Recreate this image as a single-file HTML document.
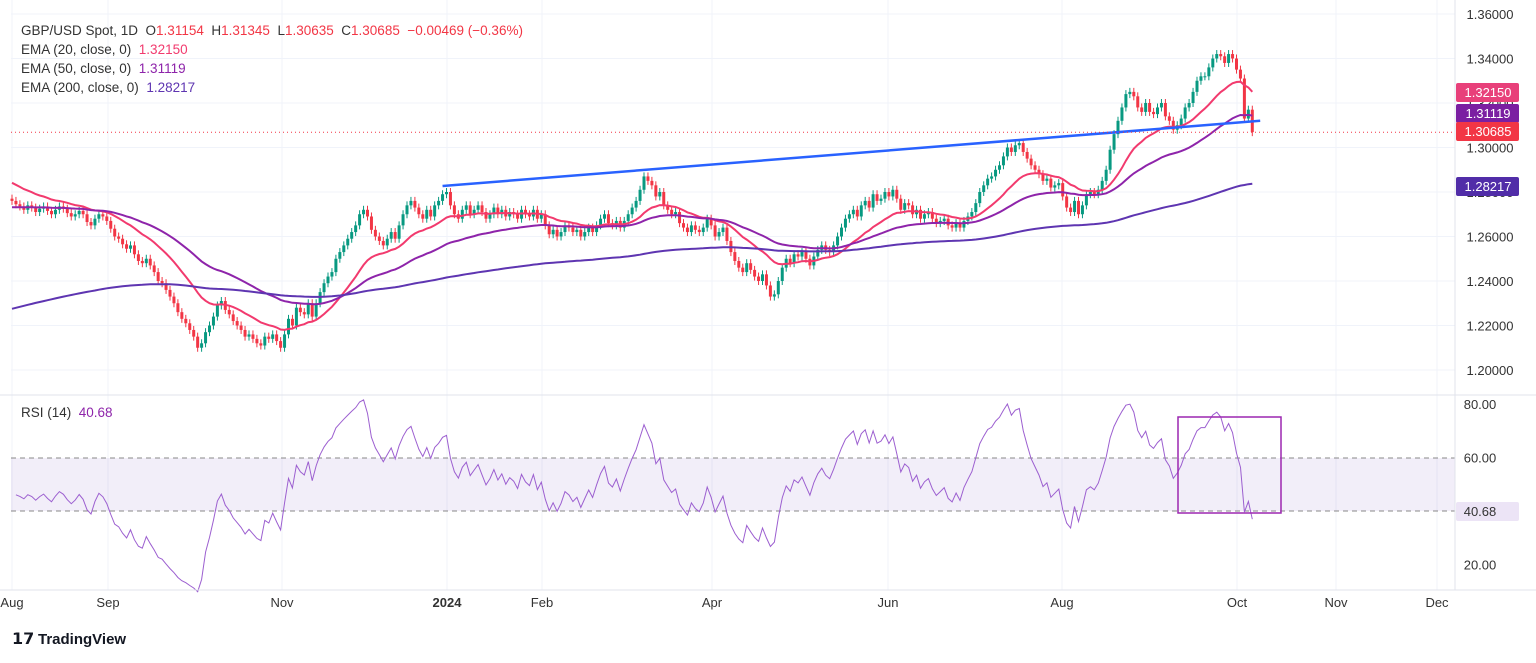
<!DOCTYPE html>
<html><head><meta charset="utf-8"><style>
body{margin:0;background:#fff;font-family:"Liberation Sans",sans-serif;}
svg text{font-family:"Liberation Sans",sans-serif;white-space:pre;}
</style></head><body>
<svg id="c" width="1536" height="658" xmlns="http://www.w3.org/2000/svg">
<rect x="0" y="0" width="1536" height="658" fill="#fff"/>
<g id="grid"></g>
<rect x="11" y="458" width="1444" height="53" fill="#7e57c2" fill-opacity="0.1"/>
<line x1="11" x2="1455" y1="458" y2="458" stroke="#888" stroke-dasharray="5,4"/>
<line x1="11" x2="1455" y1="511" y2="511" stroke="#888" stroke-dasharray="5,4"/>
<g id="candles"></g><g id="lines"></g>
<line x1="1455" x2="1455" y1="0" y2="590" stroke="#e0e3eb"/>
<line x1="0" x2="1536" y1="395" y2="395" stroke="#e0e3eb"/>
<line x1="0" x2="1536" y1="590" y2="590" stroke="#e0e3eb"/>
<g id="axis"></g>
<rect x="1178" y="417" width="103" height="96" fill="none" stroke="#9c27b0" stroke-width="1.5"/>
<g font-size="13.5">
<text x="21" y="35" fill="#333">GBP/USD Spot, 1D  O<tspan fill="#f23645">1.31154</tspan>  H<tspan fill="#f23645">1.31345</tspan>  L<tspan fill="#f23645">1.30635</tspan>  C<tspan fill="#f23645">1.30685</tspan>  <tspan fill="#f23645">−0.00469 (−0.36%)</tspan></text>
<text x="21" y="54" fill="#333">EMA (20, close, 0)  <tspan fill="#f23a6e">1.32150</tspan></text>
<text x="21" y="73" fill="#333">EMA (50, close, 0)  <tspan fill="#8e24aa">1.31119</tspan></text>
<text x="21" y="92" fill="#333">EMA (200, close, 0)  <tspan fill="#5e35b1">1.28217</tspan></text>
<text x="21" y="417" fill="#333">RSI (14)  <tspan fill="#8e24aa">40.68</tspan></text>
</g>
<g><text x="12" y="644" font-size="16" font-weight="bold" fill="#131722">𝟭𝟳</text><text x="38" y="644" font-size="15" font-weight="bold" fill="#131722">TradingView</text></g>
</svg>
<script>
const closesPips=[2760,2745,2735,2720,2740,2730,2710,2725,2735,2715,2700,2720,2735,2725,2705,2690,2700,2715,2700,2665,2650,2680,2700,
2690,2670,2635,2600,2590,2565,2545,2560,2520,2490,2480,2500,2470,2440,2400,2390,2360,2330,2300,2260,2230,2210,2180,2150,2100,
2120,2170,2200,2240,2290,2310,2270,2250,2220,2200,2180,
2150,2160,2140,2120,2110,2150,2140,2160,2130,2100,2160,2230,2200,2280,2260,2250,2300,
2240,2300,2350,2390,2420,2440,2500,2530,2560,2590,2620,2650,2700,2720,2690,2630,2600,2580,2560,2590,
2620,2590,2650,2700,2740,2760,2730,2700,2680,2720,2690,2740,2760,2790,2800,2740,2700,2680,2720,2740,
2700,2720,2740,2710,2680,2700,2730,2700,2720,2690,2710,2700,2680,2720,2700,2690,2720,2680,2700,2650,
2610,2630,2600,2620,2650,2640,2620,2630,2600,2620,2640,2620,2650,2680,2700,2660,2650,2670,2640,2670,
2700,2730,2760,2810,2870,2850,2830,2780,2800,2740,2720,2700,2710,2660,2640,2620,2650,2630,2620,2640,
2680,2650,2600,2620,2640,2580,2530,2490,2460,2440,2480,2450,2420,2400,2430,2380,2330,2340,2400,2460,
2500,2480,2520,2510,2530,2500,2470,2510,2540,2560,2540,2530,2560,2600,2640,2680,2700,2720,2690,2740,
2760,2730,2790,2760,2770,2800,2780,2810,2770,2720,2750,2740,2700,2720,2680,2700,2710,2680,2660,2670,
2680,2650,2640,2660,2640,2670,2690,2710,2750,2800,2830,2860,2870,2900,2920,2960,3000,2980,3010,3020,
2980,2950,2920,2900,2880,2850,2860,2820,2830,2840,2780,2730,2710,2760,2700,2740,2790,2800,2790,2810,
2850,2900,2990,3060,3120,3180,3240,3250,3230,3180,3160,3200,3160,3150,3180,3200,3140,3120,3080,3100,
3130,3180,3200,3250,3300,3320,3320,3360,3400,3420,3410,3380,3420,3400,3350,3310,3130,3170,3069];
const emaSeeds=[1.2850,1.2730,1.2270];
const emaPeriods=[20,50,200];
const rsiSeedGainLoss=[0.0030,0.0034];
const trendBars=[109,316];
const trendPrices=[1.2827,1.3120];
const priceTicks=[1.36,1.34,1.32,1.30,1.28,1.26,1.24,1.22,1.20];
const rsiTicks=[80,60,40,20];
const monthLabels=["Aug","Sep","Nov","2024","Feb","Apr","Jun","Aug","Oct","Nov","Dec"];
const monthX=[12,108,282,447,542,712,888,1062,1237,1336,1437];
const lastLabels=["1.32150","1.31119","1.30685","1.28217"];
const lastValues=[1.3215,1.3112,1.30685,1.2822];

const NS="http://www.w3.org/2000/svg";
const py=p=>14+(1.36-p)/0.16*356;
const ry=r=>404+(80-r)*2.675;
const bx=i=>12+i*3.95;
function mk(tag,attrs,parent){const e=document.createElementNS(NS,tag);for(const k in attrs)e.setAttribute(k,attrs[k]);document.getElementById(parent).appendChild(e);return e;}
const closes=closesPips.map(v=>1+v/10000);
priceTicks.forEach(p=>{const l=mk('line',{x1:11,x2:1455,y1:py(p),y2:py(p),stroke:'#f0f3fa'},'grid');

});
monthX.forEach(x=>{const l=mk('line',{x1:x,x2:x,y1:0,y2:590,stroke:'#f0f3fa'},'grid');

});
closes.forEach((c,i)=>{const o=i?closes[i-1]:c+0.001;const up=c>=o;const col=up?'#089981':'#f23645';
const hi=Math.max(o,c)+0.0018,lo=Math.min(o,c)-0.0018;const x=bx(i);
const w=mk('line',{x1:x,x2:x,y1:py(hi),y2:py(lo),stroke:col},'candles');


const top=py(Math.max(o,c)),h=Math.max(1,py(Math.min(o,c))-top);
const b=mk('rect',{x:x-1.5,y:top,width:3,height:h,fill:col},'candles');

});
const emaCols=['#f23a6e','#8e24aa','#5e35b1'];const emaNames=['ema-20-line','ema-50-line','ema-200-line'];
emaPeriods.forEach((n,k)=>{let e=emaSeeds[k];const a=2/(n+1);let d='';
closes.forEach((c,i)=>{e=e+a*(c-e);d+=(i?'L':'M')+bx(i).toFixed(1)+','+py(e).toFixed(1);});
const p=mk('path',{d:d,fill:'none',stroke:emaCols[k],'stroke-width':2},'lines');

});
const tl=mk('line',{x1:bx(trendBars[0]),y1:py(trendPrices[0]),x2:bx(trendBars[1]),y2:py(trendPrices[1]),stroke:'#2962ff','stroke-width':2.5},'lines');


const cl=mk('line',{x1:11,x2:1455,y1:py(lastValues[2]),y2:py(lastValues[2]),stroke:'#f23645','stroke-dasharray':'1,3'},'lines');


let ag=rsiSeedGainLoss[0],al=rsiSeedGainLoss[1],d='';
for(let i=1;i<closes.length;i++){const ch=closes[i]-closes[i-1];const g=Math.max(ch,0),l=Math.max(-ch,0);
ag=(ag*13+g)/14;al=(al*13+l)/14;
const r=al===0?100:100-100/(1+ag/al);d+=(i>1?'L':'M')+bx(i).toFixed(1)+','+ry(r).toFixed(1);}
const rp=mk('path',{d:d,fill:'none',stroke:'#9c5fd0','stroke-width':1},'lines');


priceTicks.forEach(p=>{const t=mk('text',{x:1490,y:py(p)+5,'font-size':13,fill:'#333','text-anchor':'middle'},'axis');t.textContent=p.toFixed(5);

});
rsiTicks.forEach(r=>{const t=mk('text',{x:1480,y:ry(r)+5,'font-size':13,fill:'#333','text-anchor':'middle'},'axis');t.textContent=r.toFixed(2);

});
monthLabels.forEach((m,i)=>{const t=mk('text',{x:monthX[i],y:607,'font-size':13,fill:'#333','text-anchor':'middle','font-weight':m==='2024'?'bold':'normal'},'axis');t.textContent=m;

});
const lblCols=['#e8407a','#7b1fa2','#f23645','#512da8'];const lblY=[92,113,131,186];
lastLabels.forEach((s,i)=>{const r=mk('rect',{x:1456,y:lblY[i]-9,width:63,height:19,rx:2,fill:lblCols[i]},'axis');


const t=mk('text',{x:1488,y:lblY[i]+5,'font-size':13,fill:'#fff','text-anchor':'middle'},'axis');t.textContent=s;

});
const rr=mk('rect',{x:1456,y:502,width:63,height:19,rx:2,fill:'#ece4f6'},'axis');


const rt=mk('text',{x:1480,y:516,'font-size':13,fill:'#333','text-anchor':'middle'},'axis');rt.textContent='40.68';


</script>
</body></html>
